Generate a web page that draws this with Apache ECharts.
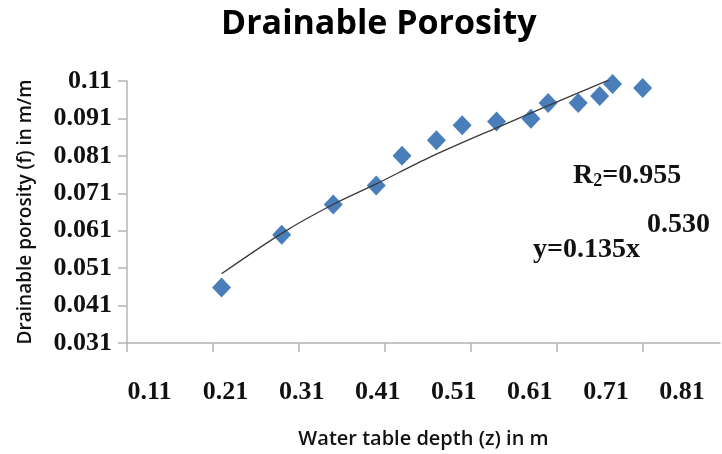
<!DOCTYPE html>
<html>
<head>
<meta charset="utf-8">
<script src="https://cdn.jsdelivr.net/npm/echarts@6/dist/echarts.min.js"></script>
<style>
html,body{margin:0;padding:0;background:#fff;}
#chart{width:722px;height:454px;}
</style>
</head>
<body>
<div id="chart"></div>
<script>
// Measured points: water table depth (m) vs drainable porosity (m/m)
const depth    = [0.22, 0.29, 0.35, 0.40, 0.43, 0.47, 0.50, 0.54, 0.58, 0.60, 0.635, 0.66, 0.675, 0.71];
const porosity = [0.0458, 0.0599, 0.068, 0.0731, 0.081, 0.0852, 0.0892, 0.0902, 0.0909, 0.0951, 0.0951, 0.097, 0.1002, 0.0991];
// Trend line as drawn
const trendX = [0.22, 0.29, 0.348, 0.40, 0.462, 0.54, 0.598, 0.671];
const trendY = [0.0495, 0.0603, 0.0678, 0.0735, 0.0806, 0.0885, 0.0942, 0.1013];
// Axis ticks and labels
const xTickValues = [0.11, 0.21, 0.31, 0.41, 0.51, 0.61, 0.71];
const xLabelValues = [0.11, 0.21, 0.31, 0.41, 0.51, 0.61, 0.71, 0.81];
const xLabelTexts = ['0.11', '0.21', '0.31', '0.41', '0.51', '0.61', '0.71', '0.81'];
const yTickValues = [0.031, 0.041, 0.051, 0.061, 0.071, 0.081, 0.091, 0.101];
const yLabelTexts = ['0.031', '0.041', '0.051', '0.061', '0.071', '0.081', '0.091', '0.11'];

const chart = echarts.init(document.getElementById('chart'), null, {renderer: 'canvas'});
const serif = '"Liberation Serif", "Times New Roman", serif';
const sans = '"Open Sans", "Noto Sans", sans-serif';
const axisGray = '#b4b4b4';

chart.setOption({
  animation: false,
  backgroundColor: '#fff',
  title: {
    text: 'Drainable Porosity',
    left: 216,
    top: 2,
    textStyle: {fontFamily: sans, fontWeight: 'bold', fontSize: 34, color: '#000'}
  },
  grid: {left: 127, right: 2, top: 81, bottom: 108, containLabel: false},
  xAxis: [{
    type: 'value',
    min: 0.11, max: 0.8,
    position: 'bottom',
    axisLine: {show: true, lineStyle: {color: axisGray, width: 1.5}},
    axisTick: {show: true, inside: false, length: 9, customValues: xTickValues, lineStyle: {color: axisGray, width: 1.5}},
    axisLabel: {show: false},
    splitLine: {show: false},
    name: 'Water table depth (z) in m',
    nameLocation: 'middle',
    nameGap: 86,
    nameTextStyle: {fontFamily: sans, fontWeight: 600, fontSize: 20, color: '#111'}
  }, {
    type: 'value',
    min: 0.0804, max: 0.86,
    position: 'bottom',
    axisLine: {show: false},
    axisTick: {show: false},
    splitLine: {show: false},
    axisLabel: {
      show: true,
      customValues: xLabelValues,
      margin: 36,
      fontFamily: serif, fontWeight: 'bold', fontSize: 26, color: '#111',
      formatter: function (v) {
        const i = xLabelValues.findIndex(function (t) { return Math.abs(t - v) < 1e-6; });
        return i >= 0 ? xLabelTexts[i] : '';
      }
    }
  }],
  yAxis: {
    type: 'value',
    min: 0.031, max: 0.101,
    axisLine: {show: true, lineStyle: {color: axisGray, width: 1.5}},
    axisTick: {show: true, inside: false, length: 9, customValues: yTickValues, lineStyle: {color: axisGray, width: 1.5}},
    splitLine: {show: false},
    axisLabel: {
      show: true,
      customValues: yTickValues,
      margin: 15,
      fontFamily: serif, fontWeight: 'bold', fontSize: 26, color: '#111',
      formatter: function (v) {
        const i = yTickValues.findIndex(function (t) { return Math.abs(t - v) < 1e-6; });
        return i >= 0 ? yLabelTexts[i] : '';
      }
    },
    name: 'Drainable porosity (f) in m/m',
    nameLocation: 'middle',
    nameGap: 92,
    nameTextStyle: {fontFamily: sans, fontWeight: 600, fontSize: 19, color: '#111'}
  },
  series: [{
    type: 'line',
    xAxisIndex: 0,
    data: trendX.map(function (x, i) { return [x, trendY[i]]; }),
    smooth: 0.3,
    symbol: 'none',
    lineStyle: {color: '#3a3a3a', width: 1.3},
    z: 3
  }, {
    type: 'scatter',
    xAxisIndex: 0,
    data: depth.map(function (x, i) { return [x, porosity[i]]; }),
    symbol: 'diamond',
    symbolSize: [19, 20],
    itemStyle: {color: '#4a7ebb', opacity: 1},
    z: 2
  }],
  graphic: [{
    type: 'text',
    left: 573, top: 162,
    style: {
      text: '{r|R}{s|2}{r|=0.955}',
      rich: {
        r: {fontFamily: serif, fontWeight: 'bold', fontSize: 28, fill: '#111', verticalAlign: 'bottom'},
        s: {fontFamily: serif, fontWeight: 'bold', fontSize: 18, fill: '#111', verticalAlign: 'bottom'}
      }
    }
  }, {
    type: 'text',
    left: 533, top: 236,
    style: {text: 'y=0.135x', font: 'bold 28px ' + serif, fill: '#111'}
  }, {
    type: 'text',
    left: 647, top: 211,
    style: {text: '0.530', font: 'bold 28px ' + serif, fill: '#111'}
  }]
});
</script>
</body>
</html>
